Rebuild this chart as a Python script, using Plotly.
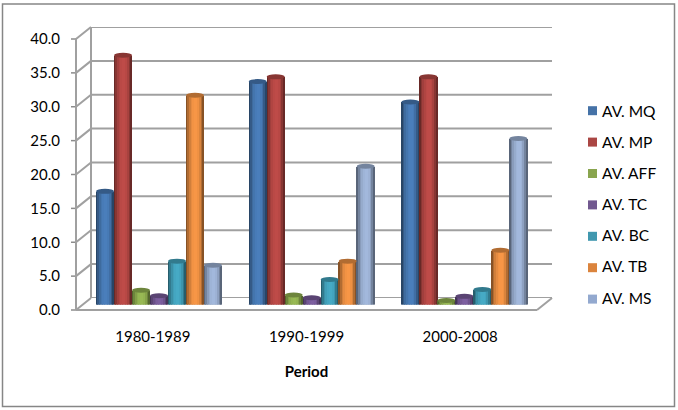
import plotly.graph_objects as go

periods = ["1980-1989", "1990-1999", "2000-2008"]
series_names = ["AV. MQ", "AV. MP", "AV. AFF", "AV. TC", "AV. BC", "AV. TB", "AV. MS"]
av_mq = [16.7, 32.9, 29.9]
av_mp = [36.8, 33.6, 33.6]
av_aff = [2.1, 1.4, 0.6]
av_tc = [1.3, 1.0, 1.2]
av_bc = [6.4, 3.7, 2.2]
av_tb = [30.9, 6.4, 8.0]
av_ms = [5.8, 20.4, 24.5]
y_ticks = [0, 5, 10, 15, 20, 25, 30, 35, 40]
all_series = [av_mq, av_mp, av_aff, av_tc, av_bc, av_tb, av_ms]
colors = ["#4A7EBB", "#BE4B48", "#98B954", "#7D5FA0", "#46AAC5", "#F79646", "#A2B8DC"]
flat = ["#4572A7", "#AA4643", "#89A54E", "#71588F", "#4198AF", "#DB843D", "#93A9CF"]

W, H = 678, 410
FONT = "Lato"
px = lambda v: v / W
py = lambda v: 1 - v / H


def shade(hex_color, f):
    r, g, b = (int(hex_color[i:i + 2], 16) for i in (1, 3, 5))
    return f"rgb({int(r * f)},{int(g * f)},{int(b * f)})"


strip_f = [0.55, 0.72, 0.85, 0.93, 0.98, 1.0, 1.0, 0.97, 0.88, 0.72, 0.55]
group_width = 0.825
bar_w = group_width / 7
strip_w = bar_w / len(strip_f)

fig = go.Figure()
shapes = []
GRID = "#A0A0A0"


def line(x0, y0, x1, y1, color=GRID, w=2):
    shapes.append(dict(type="line", xref="paper", yref="paper", x0=px(x0), y0=py(y0),
                       x1=px(x1), y1=py(y1), line=dict(color=color, width=w), layer="below"))


for s, vals in enumerate(all_series):
    left = -group_width / 2 + s * bar_w
    for k, f in enumerate(strip_f):
        fig.add_trace(go.Bar(
            x=periods, y=vals, xaxis="x2", yaxis="y3",
            offset=left + k * strip_w, width=strip_w * 1.08,
            marker=dict(color=shade(colors[s], f), line=dict(width=0)),
            showlegend=False, legendgroup=series_names[s], hoverinfo="skip",
        ))
    for i, v in enumerate(vals):
        common = dict(type="circle", xref="x2", yref="y3", xsizemode="scaled", ysizemode="pixel",
                      x0=i + left, x1=i + left + bar_w, line=dict(width=0))
        shapes.append({**common, "yanchor": 0, "y0": -2.5, "y1": 2.5,
                       "fillcolor": shade(colors[s], 0.75), "layer": "below"})
        shapes.append({**common, "yanchor": v, "y0": -2.5, "y1": 2.5,
                       "fillcolor": shade(colors[s], 0.72), "layer": "above"})
    fig.add_trace(go.Scatter(
        x=[None], y=[None], mode="markers", name=series_names[s], legendgroup=series_names[s],
        marker=dict(symbol="square", size=9, color="rgba(255,255,255,0)", line=dict(width=0)),
    ))
    # Swatch sits closer to the text than Plotly's fixed legend gap allows
    yc = 110.7 + s * 31.4
    shapes.append(dict(type="rect", xref="paper", yref="paper", x0=px(588), x1=px(597),
                       y0=py(yc - 4.5), y1=py(yc + 4.5), fillcolor=flat[s], line=dict(width=0), layer="above"))

# Chart frame
shapes.append(dict(type="rect", xref="paper", yref="paper", x0=px(2.5), y0=py(4), x1=px(674.5), y1=py(406.5),
                   line=dict(color="#868686", width=1.5), layer="below"))
# Depth connectors, front wall edge, floor
for t in y_ticks:
    yf = 310 - t * 6.775
    line(76, yf, 91, yf - 12)
    line(71, yf, 76, yf, "#8C8C8C", 1.5)
line(76, 39, 76, 310)
line(91, 27, 91, 298)
line(76, 310, 537, 310)
line(537, 310, 552, 298)

fig.update_layout(
    width=W, height=H, autosize=False, margin=dict(l=0, r=0, t=0, b=0, autoexpand=False),
    paper_bgcolor="white", plot_bgcolor="rgba(0,0,0,0)",
    barmode="overlay", bargap=0, shapes=shapes,
    font=dict(family=FONT, color="#000000"),
    xaxis=dict(domain=[px(76), px(537)], anchor="y", type="category", categoryorder="array",
               categoryarray=periods, tickmode="array", tickvals=periods, ticks="", showgrid=False,
               showline=False, range=[-0.5, 2.5], tickfont=dict(size=15), ticklabelstandoff=16, automargin=False,
               title=dict(text="<b>Period</b>", font=dict(size=15), standoff=22)),
    yaxis=dict(domain=[py(310), py(39)], range=[0, 40], anchor="free", position=px(60), tickmode="array",
               tickvals=y_ticks, ticktext=[f"{t:.1f}" for t in y_ticks], showgrid=False, showline=False,
               zeroline=False, ticks="", tickfont=dict(size=15), automargin=False),
    xaxis2=dict(domain=[px(82.7), px(540.7)], type="category", categoryorder="array",
                categoryarray=periods, range=[-0.5, 2.5], visible=False, anchor="y3", automargin=False),
    yaxis2=dict(domain=[py(298), py(27)], range=[0, 40], anchor="free", position=px(91),
                tickmode="array", tickvals=y_ticks, showticklabels=False, showgrid=False, zeroline=False,
                automargin=False),
    yaxis3=dict(domain=[py(304.5), py(33.5)], range=[0, 40], visible=False, anchor="x2",
                automargin=False),
    legend=dict(x=px(562), xanchor="left", y=py(94), yanchor="top", font=dict(size=15.5),
                traceorder="grouped", tracegroupgap=8, bgcolor="rgba(0,0,0,0)"),
)
# Back-wall gridlines on their own axis
for t in y_ticks:
    fig.add_shape(type="line", xref="paper", yref="y2", x0=px(91), x1=px(552), y0=t, y1=t,
                  line=dict(color=GRID, width=2), layer="below")
# Anchor the axes that carry only labels
fig.add_trace(go.Scatter(x=periods, y=[None] * 3, xaxis="x", yaxis="y", showlegend=False, hoverinfo="skip"))
fig.add_trace(go.Scatter(x=[None], y=[None], xaxis="x", yaxis="y2", showlegend=False, hoverinfo="skip"))
fig.write_html("out.html", config={"displayModeBar": False},
               post_script="document.body.style.margin='0';document.body.style.overflow='hidden';")
